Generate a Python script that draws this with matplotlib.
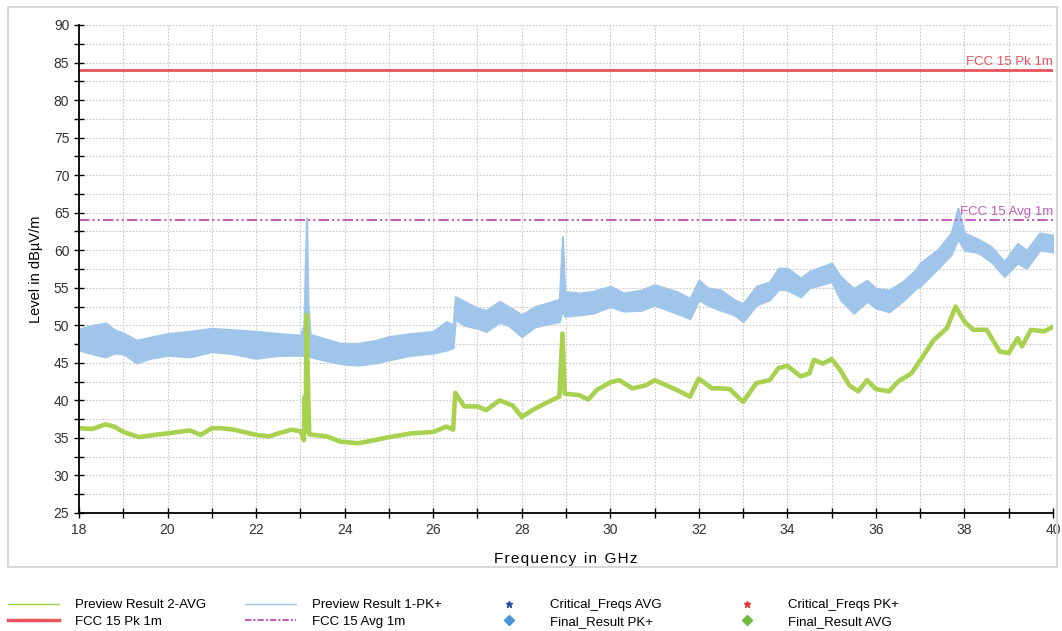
import matplotlib
matplotlib.use("Agg")
import matplotlib.pyplot as plt
from matplotlib.lines import Line2D
from matplotlib.patches import Rectangle

plt.rcParams['font.family'] = ['Liberation Sans', 'DejaVu Sans']

#---------- data ----------#
# Preview Result 1-PK+ : noisy band, lower / upper envelope (dBuV/m)
pk_freq = [18.0, 18.3, 18.6, 18.8, 19.0, 19.3, 19.6, 20.0, 20.5, 21.0, 21.5, 22.0, 22.5,
           23.0, 23.08, 23.11, 23.14, 23.17, 23.22, 23.5, 23.9, 24.3, 24.7, 25.0, 25.5,
           26.0, 26.3, 26.45, 26.5, 26.7, 27.0, 27.2, 27.5, 27.7, 28.0, 28.3, 28.6, 28.85,
           28.92, 28.97, 29.3, 29.6, 30.0, 30.3, 30.7, 31.0, 31.5, 31.8, 32.0, 32.2, 32.5,
           32.8, 33.0, 33.3, 33.6, 33.8, 34.0, 34.3, 34.5, 35.0, 35.2, 35.5, 35.8, 36.0,
           36.3, 36.6, 36.9, 37.0, 37.4, 37.7, 37.85, 38.0, 38.3, 38.6, 38.9, 39.2, 39.4,
           39.7, 40.0]
pk_low = [46.7, 46.2, 45.8, 46.3, 46.2, 45.0, 45.6, 46.0, 45.8, 46.5, 46.2, 45.6, 46.0,
          46.0, 46.0, 48.0, 50.0, 46.5, 45.8, 45.4, 44.9, 44.7, 45.0, 45.4, 46.0,
          46.3, 46.7, 47.0, 50.8, 50.0, 49.6, 49.2, 50.4, 50.0, 48.5, 49.8, 50.2, 50.5,
          52.0, 51.2, 51.4, 51.6, 52.5, 51.9, 52.0, 52.7, 51.6, 50.9, 53.4, 52.7, 52.0,
          51.4, 50.5, 52.7, 53.4, 54.8, 54.7, 53.8, 55.0, 55.8, 53.4, 51.6, 53.2, 52.3,
          51.8, 53.2, 54.9, 55.2, 57.6, 59.4, 61.5, 60.0, 59.7, 58.5, 56.5, 58.3, 57.6,
          60.0, 59.8]
pk_high = [49.5, 50.0, 50.3, 49.4, 49.0, 48.0, 48.4, 48.9, 49.2, 49.6, 49.4, 49.2, 48.9,
           48.7, 50.0, 58.0, 64.3, 53.0, 48.8, 48.3, 47.6, 47.6, 48.0, 48.5, 48.9,
           49.2, 50.5, 50.0, 53.8, 53.2, 52.3, 52.0, 53.2, 52.5, 51.4, 52.5, 53.0, 53.5,
           61.8, 54.5, 54.3, 54.5, 55.2, 54.3, 54.7, 55.4, 54.5, 53.6, 56.0, 55.0, 54.7,
           53.4, 52.9, 55.2, 55.8, 57.6, 57.6, 56.3, 57.2, 58.3, 56.5, 54.9, 56.0, 54.9,
           54.7, 55.8, 57.4, 58.3, 60.1, 62.3, 65.6, 62.3, 61.5, 60.5, 58.5, 60.9, 60.0,
           62.3, 62.0]

# Preview Result 2-AVG
avg_freq = [18.0, 18.3, 18.6, 18.8, 19.0, 19.35, 19.7, 20.0, 20.5, 20.75, 21.0, 21.2, 21.5,
            22.0, 22.3, 22.5, 22.8, 23.0, 23.08, 23.1, 23.12, 23.14, 23.16, 23.2, 23.3,
            23.6, 23.9, 24.3, 24.5, 25.0, 25.5, 26.0, 26.3, 26.45, 26.5, 26.7, 27.0, 27.2,
            27.5, 27.8, 28.0, 28.3, 28.6, 28.85, 28.92, 28.97, 29.3, 29.5, 29.7, 30.0, 30.2,
            30.5, 30.8, 31.0, 31.5, 31.8, 32.0, 32.3, 32.5, 32.7, 33.0, 33.3, 33.6, 33.8,
            34.0, 34.3, 34.5, 34.6, 34.8, 35.0, 35.2, 35.4, 35.6, 35.8, 36.0, 36.3, 36.5,
            36.8, 37.0, 37.3, 37.6, 37.8, 38.0, 38.2, 38.5, 38.8, 39.0, 39.2, 39.3, 39.5,
            39.8, 40.0]
avg_lvl = [36.3, 36.2, 36.8, 36.5, 35.8, 35.1, 35.4, 35.6, 36.0, 35.4, 36.3, 36.3, 36.1,
           35.4, 35.2, 35.6, 36.1, 35.9, 34.7, 40.5, 36.0, 51.4, 45.0, 35.5, 35.4,
           35.2, 34.5, 34.3, 34.5, 35.1, 35.6, 35.8, 36.5, 36.1, 41.0, 39.2, 39.2, 38.7,
           40.0, 39.3, 37.8, 38.9, 39.8, 40.5, 48.9, 40.9, 40.7, 40.1, 41.4, 42.4, 42.7,
           41.6, 42.0, 42.7, 41.4, 40.5, 42.9, 41.6, 41.6, 41.5, 39.8, 42.3, 42.7, 44.3,
           44.6, 43.2, 43.6, 45.4, 44.9, 45.5, 44.0, 42.0, 41.2, 42.7, 41.5, 41.2, 42.5,
           43.6, 45.3, 48.0, 49.6, 52.5, 50.5, 49.4, 49.4, 46.5, 46.3, 48.3, 47.2, 49.4,
           49.2, 49.8]

limit_pk = 84
limit_avg = 64

green = "#a8d150"
blue = "#9fc6ea"
red = "#e8545a"
magenta = "#c25fb4"

W, H = 1062, 631

#---------- plot ----------#
fig = plt.figure(figsize=(W / 100, H / 100), dpi=100)
fig.patches.append(Rectangle((8 / W, 1 - 567 / H), 1049 / W, 560 / H, transform=fig.transFigure,
                             fill=False, edgecolor="#d8d8d8", lw=1.5))
ax = fig.add_axes([79 / W, 1 - 513 / H, 974 / W, 488 / H])

ax.fill_between(pk_freq, pk_low, pk_high, color=blue, lw=1.5, edgecolor=blue)
ax.plot(avg_freq, avg_lvl, color=green, lw=3.3)

ax.axhline(limit_pk, color=red, lw=2)
ax.axhline(limit_avg, color=magenta, lw=1.5, dashes=[5, 1.5, 1, 1.5, 1, 1.5])
ax.text(40, limit_pk + 0.3, "FCC 15 Pk 1m", color=red, ha="right", va="bottom", fontsize=9.5)
ax.text(40, limit_avg + 0.3, "FCC 15 Avg 1m", color=magenta, ha="right", va="bottom", fontsize=9.5)

ax.set_xlim(18, 40)
ax.set_ylim(25, 90)
ax.set_xticks(range(18, 41, 2))
ax.set_xticks(range(18, 41), minor=True)
ax.set_yticks(range(25, 91, 5))
ax.set_yticks([25 + 2.5 * i for i in range(27)], minor=True)
ax.grid(True, which="both", color="#c8c8c8", ls=(0, (1.5, 1.5)), lw=0.8)
ax.set_axisbelow(True)
for s in ["top", "right"]:
    ax.spines[s].set_visible(False)
ax.spines["left"].set_linewidth(1.3)
ax.spines["bottom"].set_linewidth(1.3)
ax.tick_params(which="both", direction="inout", length=7, width=1, labelsize=10, colors="black")
ax.tick_params(which="major", labelcolor="#333333")
ax.set_xlabel("F r e q u e n c y   i n   G H z".replace("   ", "\u2002").replace(" ", "\u200a"),
              fontsize=11, labelpad=11)
ax.set_ylabel("Level in dBµV/m", fontsize=10.5, labelpad=8)

# legend: four columns placed by pixel position
columns = [
    (8, [(Line2D([], [], color=green, lw=1), "Preview Result 2-AVG"),
         (Line2D([], [], color=red, lw=2.5), "FCC 15 Pk 1m")]),
    (245, [(Line2D([], [], color=blue, lw=1), "Preview Result 1-PK+"),
           (Line2D([], [], color=magenta, lw=1.5, dashes=[3, 1, 1, 1]), "FCC 15 Avg 1m")]),
    (483, [(Line2D([], [], color="#2c4fa0", marker="*", ls="none", ms=5), "Critical_Freqs AVG"),
           (Line2D([], [], color="#4a94d8", marker="D", ls="none", ms=5), "Final_Result PK+")]),
    (721, [(Line2D([], [], color="#e83030", marker="*", ls="none", ms=5), "Critical_Freqs PK+"),
           (Line2D([], [], color="#6cba3c", marker="D", ls="none", ms=5), "Final_Result AVG")]),
]
for x0, items in columns:
    fig.legend([h for h, _ in items], [t for _, t in items], loc="upper left",
               bbox_to_anchor=(x0 / W, 1 - 599 / H), frameon=False, fontsize=9.5,
               handlelength=3.9, handletextpad=1.2, labelspacing=0.35,
               borderpad=0, borderaxespad=0)

fig.savefig("out.png", dpi=100)
